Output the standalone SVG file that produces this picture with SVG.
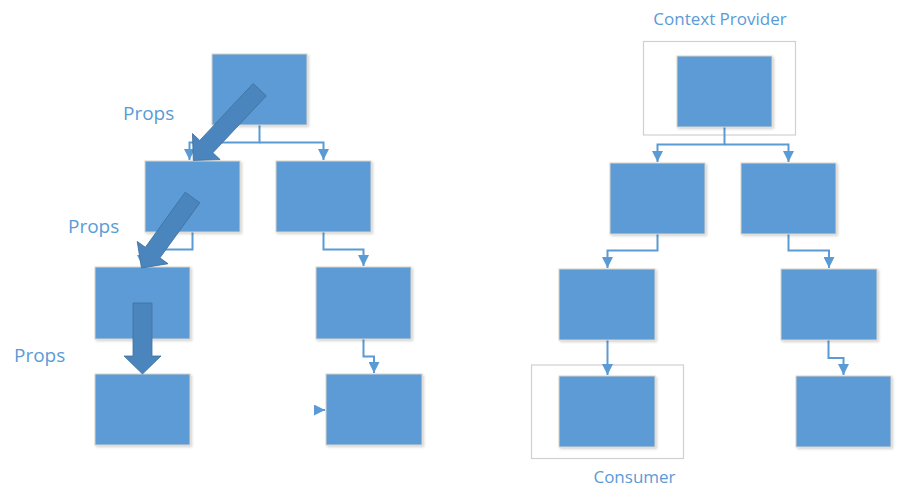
<svg xmlns="http://www.w3.org/2000/svg" width="898" height="500" viewBox="0 0 898 500">
<style>
.box{fill:#5b9bd5;stroke:#d9d3c7;stroke-width:1}
.frame{fill:none;stroke:#d0d0d0;stroke-width:1.2}
.con{fill:none;stroke:#5b9bd5;stroke-width:2}
.big{fill:#4a86bd;stroke:#41719c;stroke-width:0.8}
.lbl{font-family:"Open Sans","Liberation Sans",sans-serif;fill:#5b9bd5}
</style>
<defs>
<filter id="sh" x="-10%" y="-10%" width="130%" height="130%">
<feDropShadow dx="1.5" dy="1.5" stdDeviation="1" flood-color="#000" flood-opacity="0.18"/>
</filter>
<marker id="ah" viewBox="0 0 10 10" refX="10" refY="5" markerWidth="11" markerHeight="11" markerUnits="userSpaceOnUse" orient="auto">
<path d="M0,0 L10,5 L0,10 z" fill="#5b9bd5"/>
</marker>
</defs>

<g id="frames">
<rect id="provider-frame" class="frame" x="643.5" y="41.5" width="152" height="93.5"/>
<rect id="consumer-frame" class="frame" x="531.5" y="365" width="152" height="93.5"/>
</g>

<g id="connectors">
<path class="con" d="M259.5,125 V142.5 H189.5 V160" marker-end="url(#ah)"/>
<path class="con" d="M259.5,142.5 H323.5 V160" marker-end="url(#ah)"/>
<path class="con" d="M192.5,232 V249.5 H142.5 V266" marker-end="url(#ah)"/>
<path class="con" d="M323.5,232 V249.5 H363.5 V266" marker-end="url(#ah)"/>
<path class="con" d="M363.5,339 V356.5 H374 V373" marker-end="url(#ah)"/>
<path class="con" d="M314,410 H325" marker-end="url(#ah)"/>
<path class="con" d="M724.5,127 V144.5 H657.5 V162" marker-end="url(#ah)"/>
<path class="con" d="M724.5,144.5 H788.5 V162" marker-end="url(#ah)"/>
<path class="con" d="M657.5,234 V250.5 H607.5 V268" marker-end="url(#ah)"/>
<path class="con" d="M788.5,234 V250.5 H829 V268" marker-end="url(#ah)"/>
<path class="con" d="M607.5,340 V375" marker-end="url(#ah)"/>
<path class="con" d="M828.5,340 V358 H843.5 V375" marker-end="url(#ah)"/>
</g>

<g id="left-tree" filter="url(#sh)">
<rect id="l-root" class="box" x="212" y="54" width="95" height="71"/>
<rect id="l-a" class="box" x="145" y="161" width="95" height="71"/>
<rect id="l-b" class="box" x="276" y="161" width="95" height="71"/>
<rect id="l-aa" class="box" x="95" y="267" width="95" height="72"/>
<rect id="l-ba" class="box" x="316" y="267" width="95" height="72"/>
<rect id="l-aaa" class="box" x="95" y="374" width="95" height="71"/>
<rect id="l-baa" class="box" x="326" y="374" width="96" height="71"/>
</g>

<g id="right-tree" filter="url(#sh)">
<rect id="r-root" class="box" x="677" y="56" width="95" height="71"/>
<rect id="r-a" class="box" x="610" y="163" width="95" height="71"/>
<rect id="r-b" class="box" x="741" y="163" width="95" height="71"/>
<rect id="r-aa" class="box" x="559" y="269" width="96" height="71"/>
<rect id="r-ba" class="box" x="781" y="269" width="96" height="71"/>
<rect id="r-aaa" class="box" x="559" y="376" width="96" height="71"/>
<rect id="r-baa" class="box" x="796" y="376" width="95" height="71"/>
</g>

<g id="props-arrows">
<polygon class="big" transform="translate(259.7,89.7) rotate(133.2)" points="0,-9 78,-9 78,-19 97,0 78,19 78,9 0,9"/>
<polygon class="big" transform="translate(192.5,197.5) rotate(125.9)" points="0,-9 68,-9 68,-19 87,0 68,19 68,9 0,9"/>
<polygon class="big" points="133,303 152,303 152,356 161,356 142.5,374 124,356 133,356"/>
</g>

<g id="labels">
<text class="lbl" x="123" y="120" font-size="19">Props</text>
<text class="lbl" x="68" y="233" font-size="19">Props</text>
<text class="lbl" x="14" y="362" font-size="19">Props</text>
<text class="lbl" x="720" y="25" font-size="17" text-anchor="middle">Context Provider</text>
<text class="lbl" x="634.5" y="483" font-size="17" text-anchor="middle">Consumer</text>
</g>
</svg>
